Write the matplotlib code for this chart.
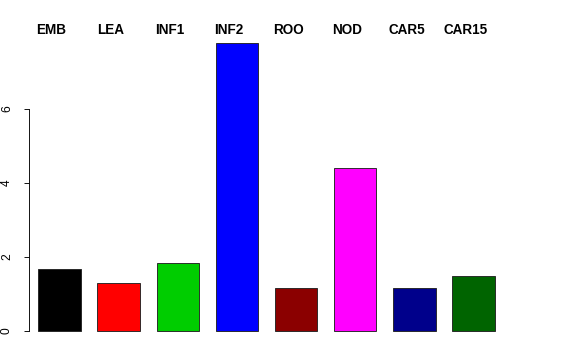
import matplotlib
matplotlib.use("Agg")
import matplotlib.pyplot as plt
import numpy as np

categories = ["EMB", "LEA", "INF1", "INF2", "ROO", "NOD", "CAR5", "CAR15"]
values = [1.68, 1.29, 1.85, 7.78, 1.15, 4.40, 1.15, 1.50]
colors = ["#000000", "#FF0000", "#00CD00", "#0000FF", "#8B0000", "#FF00FF", "#00008B", "#006400"]
yticks = [0, 2, 4, 6]

plt.rcParams['font.family'] = ['Liberation Sans', 'DejaVu Sans']

W, H = 576, 360
fig = plt.figure(figsize=(W / 72, H / 72), dpi=72)
left, right, bottom, top = 29, 504, 342.5, 31.8
ax = fig.add_axes([left / W, (H - bottom) / H, (right - left) / W, (bottom - top) / H])

space, width = 0.4, 1.0
x = space + width / 2 + np.arange(len(values)) * (space + width)
ax.bar(x, values, width=width, color=colors, edgecolor="#222222", linewidth=0.9)

ax.set_xlim(0.18, 11.42)
ax.set_ylim(-0.311, 8.09)

for s in ["top", "right", "bottom"]:
    ax.spines[s].set_visible(False)
ax.spines["left"].set_bounds(0, 6)
ax.spines["left"].set_linewidth(0.9)
ax.set_xticks([])
ax.set_yticks(yticks)
ax.set_yticklabels([str(t) for t in yticks], rotation=90, va="center", fontsize=12)
ax.tick_params(axis="y", length=5, width=0.9, pad=11)

for xi, lab in zip(x, categories):
    ax.annotate(lab, xy=(xi, 1), xycoords=("data", "figure fraction"),
                xytext=(-8, -30), textcoords="offset points",
                ha="center", va="center", fontsize=13.5, fontweight="bold")

fig.savefig("out.png", dpi=72)
